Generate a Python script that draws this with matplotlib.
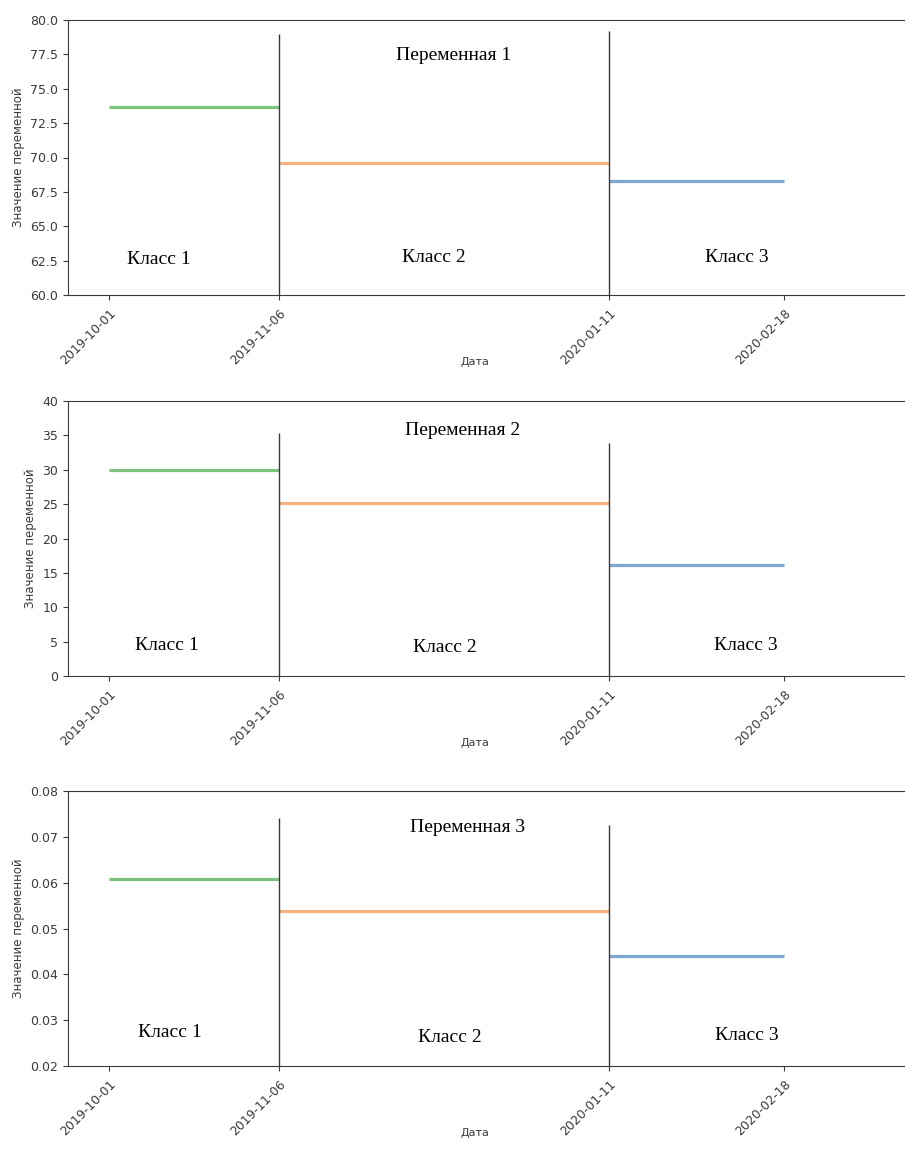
import numpy as np
import matplotlib
matplotlib.use("Agg")
import matplotlib.pyplot as plt

# x positions are row indices, labelled with their dates
tick_pos = [0, 36, 106, 143]
tick_labels = ["2019-10-01", "2019-11-06", "2020-01-11", "2020-02-18"]

class_names = ["Класс 1", "Класс 2", "Класс 3"]
class_start = [0, 36, 106]
class_end = [36, 106, 143]
class_colors = ["#7cc47c", "#f6b27c", "#7fa8cf"]

var_names = ["Переменная 1", "Переменная 2", "Переменная 3"]
var1_means = [73.67, 69.6, 68.29]
var2_means = [30.0, 25.2, 16.2]
var3_means = [0.0607, 0.0539, 0.0439]
means = [var1_means, var2_means, var3_means]

# tops of the vertical class borders at x=36 and x=106
border_tops = [[79.0, 79.2], [35.4, 33.9], [0.0742, 0.0726]]

ylims = [(60, 80), (0, 40), (0.02, 0.08)]
ysteps = [2.5, 5, 0.01]
yfmts = ["{:.1f}", "{:.0f}", "{:.2f}"]

# annotation placement (data coords): title, then class labels
title_xy = [(72.9, 77.45), (74.8, 35.77), (76.0, 0.0721)]
label_xy = [
    [(10.6, 62.55), (68.9, 62.7), (133.0, 62.7)],
    [(12.2, 4.38), (71.2, 4.1), (134.8, 4.38)],
    [(12.9, 0.02722), (72.2, 0.02612), (135.1, 0.02656)],
]

W, H = 905, 1149
fig = plt.figure(figsize=(W / 100, H / 100), dpi=100)
tops_px = [20, 401, 791]
ax_h = 275
left_px = 68

serif = ["Liberation Serif", "DejaVu Serif"]
grey = "#3a3a3a"

for i in range(3):
    ax = fig.add_axes([left_px / W, 1 - (tops_px[i] + ax_h) / H,
                       (W - left_px) / W, ax_h / H])
    for k in range(3):
        ax.hlines(means[i][k], class_start[k], class_end[k],
                  color=class_colors[k], linewidth=2.3)
    ymin = ylims[i][0]
    ax.vlines(class_start[1], ymin, border_tops[i][0], color=grey, linewidth=1)
    ax.vlines(class_start[2], ymin, border_tops[i][1], color=grey, linewidth=1)

    ax.text(*title_xy[i], var_names[i], family=serif, fontsize=14,
            ha="center", va="center")
    for k in range(3):
        ax.text(*label_xy[i][k], class_names[k], family=serif, fontsize=14,
                ha="center", va="center")

    ax.set_xlim(-8.68, 168.6)
    ax.set_ylim(*ylims[i])
    yt = np.arange(ylims[i][0], ylims[i][1] + ysteps[i] / 2, ysteps[i])
    ax.set_yticks(yt)
    ax.set_yticklabels([yfmts[i].format(v) for v in yt])
    ax.set_xticks(tick_pos)
    ax.set_xticklabels(tick_labels, rotation=45, ha="right", va="top",
                       rotation_mode="anchor")
    ax.tick_params(labelsize=9, colors=grey)
    ax.tick_params(axis="x", pad=5)
    ax.spines["right"].set_visible(False)
    for s in ["left", "bottom", "top"]:
        ax.spines[s].set_color(grey)

    ax.set_ylabel("Значение переменной", fontsize=8.5, color=grey)
    ax.set_xlabel("Дата", fontsize=8, color=grey)
    ax.xaxis.set_label_coords((475 - left_px) / (W - left_px), -0.225)

fig.savefig("out.png", dpi=100)
